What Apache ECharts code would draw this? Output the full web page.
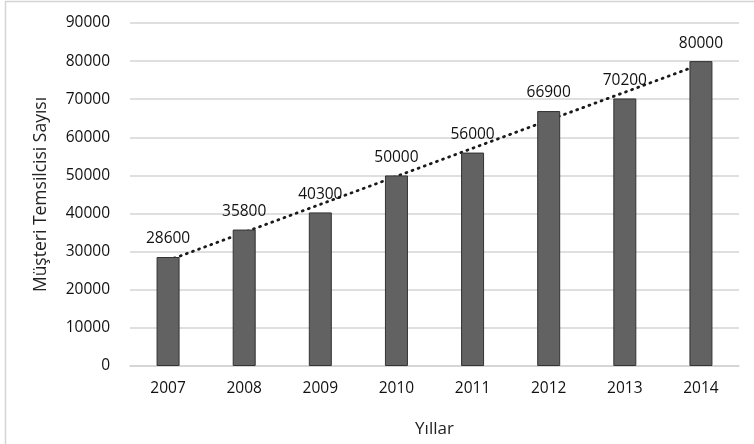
<!DOCTYPE html>
<html>
<head>
<meta charset="utf-8">
<script src="https://cdn.jsdelivr.net/npm/echarts@6/dist/echarts.min.js"></script>
<style>
  html, body { margin: 0; padding: 0; background: #fff; }
  #chart { width: 754px; height: 444px; }
</style>
</head>
<body>
<div id="chart"></div>
<script>
  // years on the x axis
  var years = ['2007', '2008', '2009', '2010', '2011', '2012', '2013', '2014'];
  // customer representative counts
  var counts = [28600, 35800, 40300, 50000, 56000, 66900, 70200, 80000];
  // dotted trend line, ends
  var trend = [27700, null, null, null, null, null, null, 79200];
  var yTicks = [0, 90000, 10000]; // min, max, step

  var font = '"Open Sans", "Noto Sans", sans-serif';
  var myChart = echarts.init(document.getElementById('chart'), null, {renderer: 'canvas'});
  var option = {
    backgroundColor: '#fff',
    animation: false,
    graphic: [{
      type: 'rect',
      shape: {x: 5.5, y: 1.5, width: 800, height: 500},
      style: {fill: 'none', stroke: '#d4d4d4', lineWidth: 1.5},
      silent: true
    }],
    grid: {left: 130, right: 15, top: 23, bottom: 78},
    xAxis: {
      type: 'category',
      data: years,
      name: 'Yıllar',
      nameLocation: 'middle',
      nameGap: 55,
      nameTextStyle: {fontFamily: font, fontSize: 17, color: '#222'},
      axisLine: {show: true, lineStyle: {color: '#d4d4d4', width: 1.5}},
      axisTick: {show: false},
      axisLabel: {fontFamily: font, fontSize: 15.5, color: '#111', margin: 15}
    },
    yAxis: {
      type: 'value',
      min: yTicks[0],
      max: yTicks[1],
      interval: yTicks[2],
      name: 'Müşteri Temsilcisi Sayısı',
      nameLocation: 'middle',
      nameGap: 80,
      nameRotate: 90,
      nameTextStyle: {fontFamily: font, fontSize: 17.5, color: '#222'},
      axisLine: {show: false},
      axisTick: {show: false},
      axisLabel: {fontFamily: font, fontSize: 15.5, color: '#111', margin: 20,
        formatter: function (v) { return String(v); }},
      splitLine: {lineStyle: {color: '#d4d4d4', width: 1.5}}
    },
    series: [
      {
        type: 'line',
        data: trend,
        connectNulls: true,
        symbol: 'none',
        z: 1,
        lineStyle: {color: '#1a1a1a', width: 2.8, type: [1, 5.5], cap: 'round'}
      },
      {
        type: 'bar',
        data: counts,
        barWidth: 23,
        z: 3,
        itemStyle: {color: '#626262', borderColor: '#333', borderWidth: 1},
        label: {
          show: true,
          position: 'top',
          distance: 10,
          fontFamily: font,
          fontSize: 15.5,
          color: '#111'
        }
      }
    ]
  };
  myChart.setOption(option);
</script>
</body>
</html>
